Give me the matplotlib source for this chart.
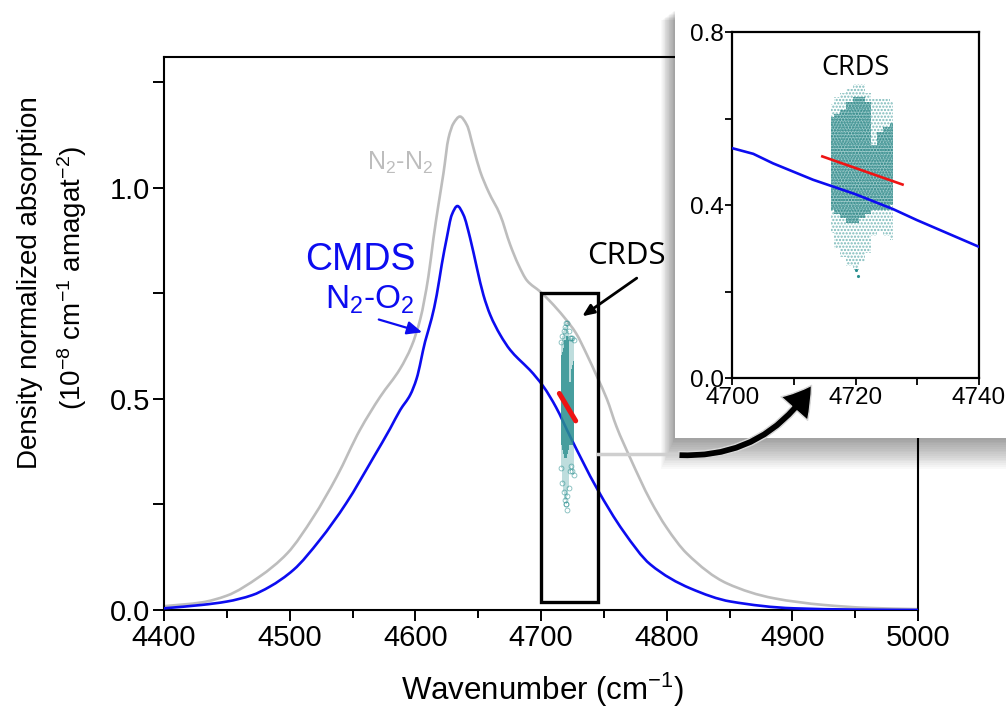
import matplotlib
matplotlib.use("Agg")
import matplotlib.pyplot as plt
from matplotlib import font_manager
from matplotlib.patches import Rectangle, FancyArrowPatch, PathPatch
from matplotlib.path import Path
from matplotlib.lines import Line2D
from matplotlib.ticker import MultipleLocator

plt.rcParams['font.family'] = ['Liberation Sans', 'DejaVu Sans']
plt.rcParams['mathtext.fontset'] = 'custom'
plt.rcParams['mathtext.rm'] = 'Liberation Sans'
plt.rcParams['mathtext.it'] = 'Liberation Sans:italic'
plt.rcParams['mathtext.bf'] = 'Liberation Sans:bold'
plt.rcParams['hatch.linewidth'] = 1.1

# ---------------- data ----------------
n2o2_x = [4400, 4430, 4450, 4470, 4484, 4503, 4524, 4545, 4567, 4580, 4588, 4596,
          4601, 4607.8, 4613, 4617, 4621, 4625, 4629, 4633.5, 4638.3, 4643.6, 4649,
          4654.2, 4659.6, 4667.5, 4675.5, 4682, 4691, 4702, 4712, 4723.2, 4744.5,
          4765.7, 4787, 4819, 4851, 4901, 4950, 5000]
n2o2_y = [0.004, 0.012, 0.020, 0.035, 0.055, 0.095, 0.166, 0.253, 0.363, 0.430, 0.474, 0.510,
          0.548, 0.636, 0.691, 0.746, 0.818, 0.881, 0.936, 0.957, 0.936, 0.881, 0.810,
          0.746, 0.699, 0.652, 0.616, 0.595, 0.569, 0.529, 0.480, 0.411, 0.288,
          0.186, 0.108, 0.051, 0.020, 0.004, 0.001, 0.000]

n2n2_x = [4400, 4430, 4450, 4476, 4498, 4519, 4537.5, 4556, 4572, 4588, 4597, 4604,
          4610.4, 4614.4, 4618.4, 4622.4, 4626.4, 4630.4, 4635.5, 4641, 4646.3, 4651.6,
          4658.2, 4667.5, 4675.5, 4682, 4689, 4699.4, 4707.3, 4718, 4728, 4736.5, 4745,
          4752.4, 4760, 4771, 4787, 4800, 4816, 4848, 4885, 4925, 4960, 5000]
n2n2_y = [0.009, 0.018, 0.034, 0.079, 0.134, 0.221, 0.316, 0.427, 0.505, 0.572, 0.625, 0.690,
          0.790, 0.880, 0.960, 1.035, 1.118, 1.153, 1.169, 1.149, 1.094, 1.039,
          0.991, 0.936, 0.865, 0.818, 0.780, 0.754, 0.731, 0.695, 0.655, 0.605, 0.550,
          0.500, 0.435, 0.360, 0.260, 0.195, 0.134, 0.063, 0.028, 0.012, 0.005, 0.002]

# CRDS point cloud, per wavenumber column: dense band and full extent
crds_x = [4716, 4717, 4718, 4719, 4720, 4721, 4722, 4723, 4724, 4725, 4726]
crds_dense_lo = [0.39, 0.38, 0.37, 0.36, 0.36, 0.37, 0.38, 0.39, 0.39, 0.39, 0.40]
crds_dense_hi = [0.605, 0.61, 0.62, 0.64, 0.65, 0.65, 0.64, 0.54, 0.57, 0.58, 0.59]
crds_all_lo = [0.336, 0.30, 0.28, 0.26, 0.25, 0.27, 0.29, 0.33, 0.34, 0.33, 0.32]
crds_all_hi = [0.635, 0.65, 0.66, 0.67, 0.68, 0.68, 0.66, 0.645, 0.645, 0.645, 0.64]
crds_out_x = [4720.3, 4720.1]
crds_out_y = [0.236, 0.25]

# CRDS fit (red)
fit_x = [4714.6, 4727.6]
fit_y = [0.513, 0.448]

# CMDS N2-O2 in the zoomed window
zoom_x = [4700, 4703.4, 4706.6, 4713.1, 4719.9, 4726.1, 4729.9, 4740]
zoom_y = [0.532, 0.519, 0.497, 0.459, 0.426, 0.391, 0.366, 0.304]

xticks_main = [4400, 4500, 4600, 4700, 4800, 4900, 5000]
yticks_main = [0.0, 0.5, 1.0]
xticks_zoom = [4700, 4720, 4740]
yticks_zoom = [0.0, 0.4, 0.8]

# ---------------- fonts ----------------
_names = {f.name for f in font_manager.fontManager.ttflist}
if 'Liberation Sans Narrow' in _names:
    NARROW = ['Liberation Sans Narrow', 'Liberation Sans']
    tick_fs, xlab_fs, ins_fs = 24, 27, 21
else:
    NARROW = ['Liberation Sans', 'DejaVu Sans']
    tick_fs, xlab_fs, ins_fs = 21, 22.5, 17.5

# ---------------- figure ----------------
W, H = 1006, 717
fig = plt.figure(figsize=(W / 100, H / 100), dpi=100)


def fx(px):
    return px / W


def fy(py):
    return 1 - py / H


def smooth_line(axis, xs, ys, **kw):
    """Draw the read points joined by a smooth, shape-preserving cubic Bezier path."""
    n = len(xs)
    sec = [(ys[i + 1] - ys[i]) / (xs[i + 1] - xs[i]) for i in range(n - 1)]
    slopes = [sec[0]]
    for i in range(1, n - 1):
        a, b = sec[i - 1], sec[i]
        if a * b <= 0:
            slopes.append(0.0)
        else:
            h0 = xs[i] - xs[i - 1]
            h1 = xs[i + 1] - xs[i]
            w1, w2 = 2 * h1 + h0, h1 + 2 * h0
            slopes.append((w1 + w2) / (w1 / a + w2 / b))
    slopes.append(sec[-1])
    verts = [(xs[0], ys[0])]
    codes = [Path.MOVETO]
    for i in range(n - 1):
        h = xs[i + 1] - xs[i]
        verts += [(xs[i] + h / 3, ys[i] + slopes[i] * h / 3),
                  (xs[i + 1] - h / 3, ys[i + 1] - slopes[i + 1] * h / 3),
                  (xs[i + 1], ys[i + 1])]
        codes += [Path.CURVE4] * 3
    patch = PathPatch(Path(verts, codes), fill=False, capstyle='round', joinstyle='round', **kw)
    axis.add_patch(patch)
    return patch


BLUE = '#0c0cf0'
GRAY = '#bdbdbd'
TEAL = '#2a8f8f'
RED = '#ee1414'

ax = fig.add_axes([fx(164), fy(610), fx(918 - 164), (610 - 57) / H])
smooth_line(ax, n2n2_x, n2n2_y, edgecolor=GRAY, lw=1.9, zorder=2)
smooth_line(ax, n2o2_x, n2o2_y, edgecolor=BLUE, lw=1.9, zorder=3)
ax.set_xlim(4400, 5000)
ax.set_ylim(0, 1.31)
ax.set_xticks(xticks_main)
ax.set_yticks(yticks_main)
ax.set_yticklabels(['%.1f' % v for v in yticks_main])
ax.xaxis.set_minor_locator(MultipleLocator(50))
ax.yaxis.set_minor_locator(MultipleLocator(0.25))
ax.tick_params(which='both', direction='out', width=1.4, pad=2)
ax.tick_params(axis='y', which='both', length=8)
ax.tick_params(axis='x', which='major', length=8)
ax.tick_params(axis='x', which='minor', length=6)
for lab in ax.get_xticklabels() + ax.get_yticklabels():
    lab.set_family(NARROW)
    lab.set_fontsize(tick_fs)
for s in ax.spines.values():
    s.set_linewidth(1.5)

# CRDS cloud in main plot
ax.fill_between(crds_x, crds_all_lo, crds_all_hi, step='mid', facecolor=TEAL, alpha=0.3,
                edgecolor='none', zorder=4)
ax.fill_between(crds_x, crds_dense_lo, crds_dense_hi, step='mid', facecolor=TEAL, alpha=0.8,
                edgecolor='none', zorder=4)
ax.plot(crds_x, crds_all_hi, 'o', ms=3.5, mfc='none', mec=TEAL, mew=0.6, alpha=0.6, zorder=4)
ax.plot(crds_x, crds_all_lo, 'o', ms=3.5, mfc='none', mec=TEAL, mew=0.6, alpha=0.6, zorder=4)
ax.plot(crds_out_x, crds_out_y, 'o', ms=3.5, mfc='none', mec=TEAL, mew=0.6, alpha=0.6, zorder=4)
ax.plot(fit_x, fit_y, color=RED, lw=3.6, solid_capstyle='round', zorder=5)

# box
ax.add_patch(Rectangle((4700, 0.02), 45, 0.732, fill=False, ec='black', lw=2.4, zorder=6))

# annotations
ax.text(4588, 1.06, r'N$_2$-N$_2$', color=GRAY, fontsize=18, ha='center', va='center')
ax.text(4556, 0.83, 'CMDS', color=BLUE, fontsize=27, ha='center', va='center')
ax.text(4564, 0.735, r'N$_2$-O$_2$', color=BLUE, fontsize=24, ha='center', va='center')
ax.annotate('', xy=(4607.5, 0.656), xytext=(4568.8, 0.690),
            arrowprops=dict(arrowstyle='-|>,head_length=0.9,head_width=0.4', color=BLUE, lw=1.6))
ax.text(4768, 0.838, 'CRDS', color='black', fontsize=22.5, family=['Open Sans', 'DejaVu Sans'],
        ha='center', va='center')
ax.annotate('', xy=(4731, 0.692), xytext=(4778, 0.79),
            arrowprops=dict(arrowstyle='-|>,head_length=0.7,head_width=0.3', color='black', lw=2.0))

fig.text(fx(30), fy(283), 'Density normalized absorption', rotation=90, fontsize=20,
         ha='center', va='center')
fig.text(fx(72), fy(278), r'(10$^{-8}$ cm$^{-1}$ amagat$^{-2}$)', rotation=90, fontsize=20,
         ha='center', va='center')
fig.text(fx(543), fy(690), r'Wavenumber (cm$^{-1}$)', fontsize=xlab_fs, family=NARROW,
         ha='center', va='center')

# ---------------- inset panel with shadow ----------------
px0, py0, px1, py1 = 675, 10, 1010, 438
for k in range(1, 18):
    fig.patches.append(Rectangle((fx(px0 - 0.8 * k), fy(py1 + 1.8 * k)),
                                 fx(px1 - px0 + 0.8 * k), (py1 - py0 + 1.2 * k) / H,
                                 transform=fig.transFigure, fc='black', ec='none',
                                 alpha=0.022, zorder=1))
fig.patches.append(Rectangle((fx(px0), fy(py1)), fx(px1 - px0), (py1 - py0) / H,
                             transform=fig.transFigure, fc='white', ec='none', zorder=1.5))

# connector arrow from the box to the inset
fig.lines.append(Line2D([fx(598), fx(700)], [fy(454), fy(454)], transform=fig.transFigure,
                        color='#cfcfcf', lw=2.5, zorder=1.6))
arr = FancyArrowPatch((fx(676), fy(455)), (fx(813), fy(383)), transform=fig.transFigure,
                      connectionstyle='arc3,rad=0.3',
                      arrowstyle='simple,head_width=1.6,head_length=1.3,tail_width=0.32',
                      mutation_scale=16, fc='black', ec='#d8d8d8', lw=1.0, zorder=3)
fig.patches.append(arr)

# ---------------- inset axes ----------------
ins = fig.add_axes([fx(732.3), fy(378.3), fx(246.7), 346 / H], zorder=2)
ins.set_facecolor('white')
ins.fill_between(crds_x, crds_all_lo, crds_all_hi, step='mid', facecolor='none',
                 edgecolor=TEAL, hatch='.....', lw=0, alpha=0.6, zorder=2)
ins.fill_between(crds_x, crds_dense_lo, crds_dense_hi, step='mid', facecolor=TEAL, alpha=0.45,
                 edgecolor='none', lw=0, zorder=2)
ins.fill_between(crds_x, crds_dense_lo, crds_dense_hi, step='mid', facecolor='none',
                 edgecolor='#1f7a7a', hatch='......', lw=0, alpha=0.8, zorder=2)
ins.plot(crds_out_x, crds_out_y, '.', ms=2.5, color=TEAL, zorder=2)
ins.plot(zoom_x, zoom_y, color=BLUE, lw=1.9, zorder=3)
ins.plot(fit_x, fit_y, color=RED, lw=1.9, zorder=4)
ins.text(4720, 0.717, 'CRDS', fontsize=19.5, family=['Open Sans', 'DejaVu Sans'],
         ha='center', va='center')
ins.set_xlim(4700, 4740)
ins.set_ylim(0, 0.8)
ins.set_xticks(xticks_zoom)
ins.set_yticks(yticks_zoom)
ins.set_yticklabels(['%.1f' % v for v in yticks_zoom])
ins.xaxis.set_minor_locator(MultipleLocator(10))
ins.yaxis.set_minor_locator(MultipleLocator(0.2))
ins.tick_params(which='both', direction='out', width=1.3, length=5, pad=1)
for lab in ins.get_xticklabels() + ins.get_yticklabels():
    lab.set_family(NARROW)
    lab.set_fontsize(ins_fs)
for s in ins.spines.values():
    s.set_linewidth(1.6)

fig.savefig('out.png', dpi=100)
